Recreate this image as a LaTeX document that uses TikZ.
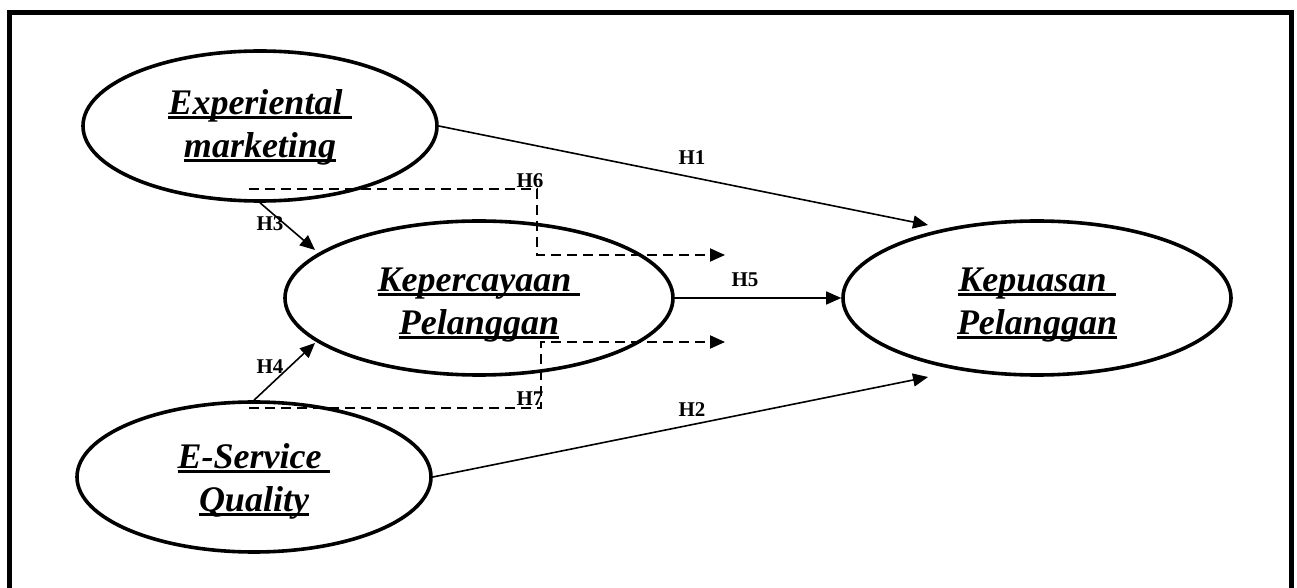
\documentclass[tikz,border=0pt]{standalone}
\usepackage{fontspec}
\setmainfont{Liberation Serif}
\usetikzlibrary{shapes.geometric,arrows.meta}
% thick underline as in the variable names
\newcommand{\ulin}[1]{\setbox0\hbox{#1}\rlap{\rule[-2.2pt]{\wd0}{1.6pt}}\box0}
\begin{document}
\begin{tikzpicture}[x=0.5pt,y=-0.5pt]
	% size of each ellipse
	\def\wside{177pt}
	\def\hside{75pt}
	\def\wmid{194pt}
	\def\hmid{77pt}
	% node style definition
	\tikzstyle{latent} = [draw, ellipse, line width=1.8pt, align=center, inner sep=0pt, font=\fontsize{18}{21.5}\selectfont\bfseries\itshape];
	\tikzstyle{hyp} = [font=\fontsize{10.5}{12}\selectfont\bfseries, inner sep=0pt];
	\tikzstyle{link} = [-{Triangle[length=7.5pt,width=6.5pt]}, line width=0.8pt];
	\tikzstyle{indirect} = [link, dash pattern=on 5pt off 3pt, line width=1pt];
	\useasboundingbox (0,0) rectangle (1297,588);
	% frame, open at the bottom
	\draw[line width=2.5pt] (9.5,588) -- (9.5,12.5) -- (1291,12.5) -- (1291,588);
	% variables (the struts push the text down a little)
	\node[latent, minimum width=\wside, minimum height=\hside] (exp) at (260,126) {\rule{0pt}{14.3pt}\ulin{Experiental~}\\\ulin{marketing}};
	\node[latent, minimum width=\wside, minimum height=\hside] (esq) at (254,477) {\rule{0pt}{17.2pt}\ulin{E-Service~}\\\ulin{Quality}};
	\node[latent, minimum width=\wmid, minimum height=\hmid] (kpc) at (479,298) {\rule{0pt}{18.9pt}\ulin{Kepercayaan~}\\\ulin{Pelanggan}};
	\node[latent, minimum width=\wmid, minimum height=\hmid] (kpu) at (1037,298) {\rule{0pt}{18.9pt}\ulin{Kepuasan~}\\\ulin{Pelanggan}};
	% free ends of the arrows
	\coordinate (h1tip) at (928,225);
	\coordinate (h2tip) at (928,377);
	\coordinate (h3tip) at (315,250);
	\coordinate (h4tip) at (315,343);
	\coordinate (h6start) at (249,189);
	\coordinate (h6bend) at (537,189);
	\coordinate (h6tip) at (725,255);
	\coordinate (h7start) at (249,408);
	\coordinate (h7bend) at (541,408);
	\coordinate (h7tip) at (725,342);
	% direct effects
	\draw[link] (exp.east) -- (h1tip);
	\draw[link] (esq.east) -- (h2tip);
	\draw[link] (exp.south) -- (h3tip);
	\draw[link] (esq.north) -- (h4tip);
	\draw[link] (kpc.east) -- (kpu.west);
	% mediated effects
	\draw[indirect] (h6start) -- (h6bend) |- (h6tip);
	\draw[indirect] (h7start) -- (h7bend) |- (h7tip);
	% hypotheses
	\node[hyp] (lh1) at (692,158) {H1};
	\node[hyp] (lh2) at (692,410) {H2};
	\node[hyp] (lh3) at (270,224) {H3};
	\node[hyp] (lh4) at (270,367) {H4};
	\node[hyp] (lh5) at (745,280) {H5};
	\node[hyp] (lh6) at (530,181) {H6};
	\node[hyp] (lh7) at (530,399) {H7};
\end{tikzpicture}
\end{document}
